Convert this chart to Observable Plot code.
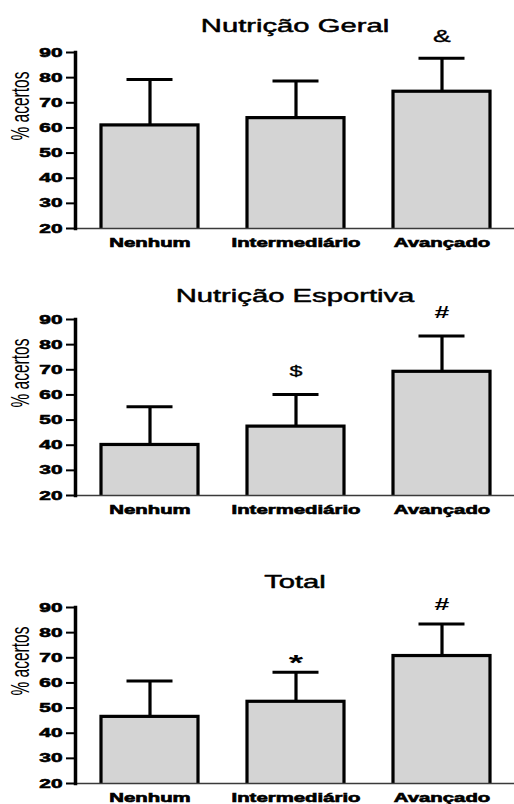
<!DOCTYPE html>
<html><head><meta charset="utf-8">
<script src="https://cdn.jsdelivr.net/npm/d3@7"></script>
<script src="https://cdn.jsdelivr.net/npm/@observablehq/plot@0.6"></script>
<style>
html,body{margin:0;padding:0;background:#fff;}
#root{position:relative;width:514px;height:804px;overflow:hidden;background:#fff;}
.panel{position:absolute;left:0;}
</style></head><body><div id="root"></div>
<script>
// ---- data ----
const categories = ["Nenhum", "Intermediário", "Avançado"];
const yTicks = [20, 30, 40, 50, 60, 70, 80, 90];
const titles = ["Nutrição Geral", "Nutrição Esportiva", "Total"];
const yLabel = "% acertos";

const geralMean = [61.0, 63.9, 74.4];
const geralSD = [18.3, 14.8, 13.3];
const esportivaMean = [40.1, 47.4, 69.2];
const esportivaSD = [15.2, 12.8, 14.2];
const totalMean = [46.5, 52.5, 70.7];
const totalSD = [14.3, 11.7, 12.7];

const geralSymbols = [{cat: "Avançado", label: "&", y: 96.1}];
const esportivaSymbols = [{cat: "Intermediário", label: "$", y: 69.2}, {cat: "Avançado", label: "#", y: 92.5}];
const totalSymbols = [{cat: "Intermediário", label: "*", y: 67.8}, {cat: "Avançado", label: "#", y: 91.1}];

// ---- styling ----
const FONT = "'Liberation Sans', Arial, Helvetica, sans-serif";
const STRETCH = 1.67;
const symbolSize = {"&": 16, "$": 14, "#": 16, "*": 22};
const boldSymbols = ["#", "*"];

const panels = [
  {title: titles[0], mean: geralMean, sd: geralSD, symbols: geralSymbols, top: 0, titleDy: -20.3},
  {title: titles[1], mean: esportivaMean, sd: esportivaSD, symbols: esportivaSymbols, top: 267.3, titleDy: -17.6},
  {title: titles[2], mean: totalMean, sd: totalSD, symbols: totalSymbols, top: 554.7, titleDy: -20}
];

function stretchTexts(svg) {
  svg.querySelectorAll("text").forEach(t => {
    let tr = t.getAttribute("transform") || "";
    const x = t.getAttribute("x");
    if (x != null && x !== "" && !isNaN(+x)) { tr = tr + ` translate(${x},0)`; t.removeAttribute("x"); }
    if (tr.includes("rotate(")) tr = tr.replace("rotate(", `scale(${STRETCH},1) rotate(`);
    else tr = tr + ` scale(${STRETCH},1)`;
    t.setAttribute("transform", tr.trim());
  });
  // heavier tick labels (the reference uses a very heavy face)
  svg.querySelectorAll('g[aria-label*="tick label"] text').forEach(t => {
    t.style.stroke = "black";
    t.style.strokeWidth = "0.6px";
  });
}

const root = document.getElementById("root");
for (const p of panels) {
  const rows = categories.map((c, i) => ({cat: c, mean: p.mean[i], sd: p.sd[i], hi: p.mean[i] + p.sd[i]}));
  const svg = Plot.plot({
    width: 514,
    height: 256,
    marginTop: 52,
    marginBottom: 28,
    marginLeft: 75,
    marginRight: 0,
    style: {fontFamily: FONT, color: "black", background: "white", overflow: "visible"},
    x: {domain: categories, paddingInner: 0.333, paddingOuter: 0.16, align: 0.53, label: null},
    y: {domain: [yTicks[0], yTicks[yTicks.length - 1]], label: null},
    marks: [
      Plot.barY(rows, {x: "cat", y: "mean", fill: "#d4d4d4", stroke: "black", strokeWidth: 3.2, clip: true}),
      Plot.ruleX(rows, {x: "cat", y1: "mean", y2: "hi", stroke: "black", strokeWidth: 3.2}),
      Plot.tickY(rows, {x: "cat", y: "hi", stroke: "black", strokeWidth: 3, insetLeft: 25.5, insetRight: 25.5}),
      Plot.ruleY([yTicks[0]], {stroke: "#3a3a3a", strokeWidth: 1.5}),
      Plot.frame({anchor: "left", stroke: "black", strokeWidth: 3.5}),
      Plot.axisY({ticks: yTicks, tickSize: 9, tickPadding: 4, strokeWidth: 2, fontSize: 12.5, fontWeight: "bold", label: null}),
      Plot.axisX({tickSize: 0, tickPadding: 9.5, fontSize: 12.2, fontWeight: "bold", label: null}),
      Plot.text([p.title], {frameAnchor: "top", dy: p.titleDy, lineAnchor: "bottom", fontSize: 17.5, fill: "black", stroke: "black", strokeWidth: 0.45}),
      Plot.text([yLabel], {frameAnchor: "left", rotate: -90, dx: -55, fontSize: 15.5, fill: "black"}),
      Plot.text(p.symbols, {filter: d => !boldSymbols.includes(d.label), x: "cat", y: "y", text: "label", fontSize: d => symbolSize[d.label], fill: "black", stroke: "black", strokeWidth: 0.3}),
      Plot.text(p.symbols, {filter: d => boldSymbols.includes(d.label), x: "cat", y: "y", text: "label", fontSize: d => symbolSize[d.label], fontWeight: "bold", fill: "black"})
    ]
  });
  stretchTexts(svg);
  const div = document.createElement("div");
  div.className = "panel";
  div.style.top = p.top + "px";
  div.appendChild(svg);
  root.appendChild(div);
}
</script>
</body></html>
